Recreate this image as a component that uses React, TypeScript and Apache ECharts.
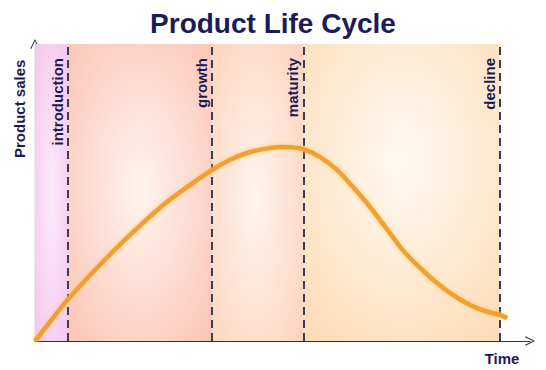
import React, { useEffect, useRef } from "react";
import * as echarts from "echarts";

const stageNames = ["introduction", "growth", "maturity", "decline"];
const stageStarts = [0, 6.7, 35.8, 54.2];
const stageEnds = [6.7, 35.8, 54.2, 93.9];
const stageEdgeColors = ["#f4c4ee", "#fbc2b2", "#fcd2bc", "#fddcb8"];
const stageCenterColors = ["#fde9f8", "#fff4ef", "#fff4ec", "#fffaf2"];
const stageCenterX = [0.5, 0.5, 0.47, 0.51];
const stageCenterY = [0.5, 0.49, 0.52, 0.39];

const timeValues = [0, 3.0, 6.7, 12.5, 19.2, 25.9, 31.3, 35.8, 39.4, 42.8, 46.1, 49.5, 51.9, 54.2, 57.6, 61.0, 64.2, 67.7, 71.1, 74.3, 77.8, 81.2, 84.4, 87.9, 90.9, 93.9, 95.4];
const salesValues = [0, 6.4, 14.1, 24.6, 35.7, 45.8, 52.5, 57.6, 61.0, 63.3, 64.6, 65.3, 65.2, 64.6, 61.9, 57.6, 51.9, 45.1, 37.7, 30.6, 24.6, 19.5, 15.5, 12.1, 10.1, 8.8, 7.7];

const navy = "#1b1b55";
const chevron = "path://M0,10 L5,0 L10,10 L9,10.6 L5,2.2 L1,10.6 Z";

export default function App() {
  const ref = useRef<HTMLDivElement>(null);
  useEffect(() => {
    if (!ref.current) return;
    const chart = echarts.init(ref.current, null, { renderer: "svg" });
    const areas = stageNames.map((n, i) => [
      {
        xAxis: stageStarts[i],
        itemStyle: {
          color: {
            type: "radial",
            x: stageCenterX[i],
            y: stageCenterY[i],
            r: 0.75,
            colorStops: [
              { offset: 0, color: stageCenterColors[i] },
              { offset: 1, color: stageEdgeColors[i] },
            ],
          },
        },
      },
      { xAxis: stageEnds[i] },
    ]);
    const lines = stageNames.map((n, i) => ({
      xAxis: stageEnds[i],
      label: { formatter: n },
    }));
    chart.setOption({
      animation: false,
      title: {
        text: "Product Life Cycle",
        left: "center",
        top: 4,
        textStyle: { fontSize: 28, fontWeight: "bold", color: navy, fontFamily: "Liberation Sans, Arial, sans-serif" },
      },
      grid: { left: 35, right: 16, top: 44, bottom: 29 },
      xAxis: {
        type: "value",
        min: 0,
        max: 100,
        splitLine: { show: false },
        axisTick: { show: false },
        axisLabel: { show: false },
        axisLine: { lineStyle: { color: "#3a2a48", width: 1.2 }, symbol: ["none", chevron], symbolSize: [11, 10] },
      },
      yAxis: {
        type: "value",
        min: 0,
        max: 100,
        splitLine: { show: false },
        axisTick: { show: false },
        axisLabel: { show: false },
        axisLine: { lineStyle: { color: "#3a2a48", width: 1.2 }, symbol: ["none", chevron], symbolSize: [11, 10] },
      },
      graphic: [
        {
          type: "text",
          x: 12,
          y: 158,
          rotation: Math.PI / 2,
          style: { text: "Product sales", fill: navy, font: "bold 15px Liberation Sans, Arial, sans-serif", textAlign: "left", textVerticalAlign: "top" },
        },
        {
          type: "text",
          x: 502,
          y: 358,
          style: { text: "Time", fill: navy, font: "bold 15px Liberation Sans, Arial, sans-serif", textAlign: "center", textVerticalAlign: "middle" },
        },
      ],
      series: [
        {
          type: "line",
          data: timeValues.map((t, i) => [t, salesValues[i]]),
          smooth: 0.3,
          showSymbol: false,
          z: 5,
          lineStyle: { color: "#eea035", width: 4.5, shadowColor: "rgba(255,200,80,0.8)", shadowBlur: 4 },
          markArea: { silent: true, z: 1, data: areas },
          markLine: {
            silent: true,
            symbol: "none",
            z: 3,
            lineStyle: { type: [8, 5], color: "#3c3c52", width: 2 },
            label: {
              show: true,
              position: "insideEndTop",
              distance: [14, 3],
              color: navy,
              fontSize: 15,
              fontWeight: "bold",
              fontFamily: "Liberation Sans, Arial, sans-serif",
            },
            data: lines,
          },
        },
      ],
    });
    return () => chart.dispose();
  }, []);
  return <div ref={ref} style={{ width: 546, height: 370, position: "absolute", left: 0, top: 0 }} />;
}
